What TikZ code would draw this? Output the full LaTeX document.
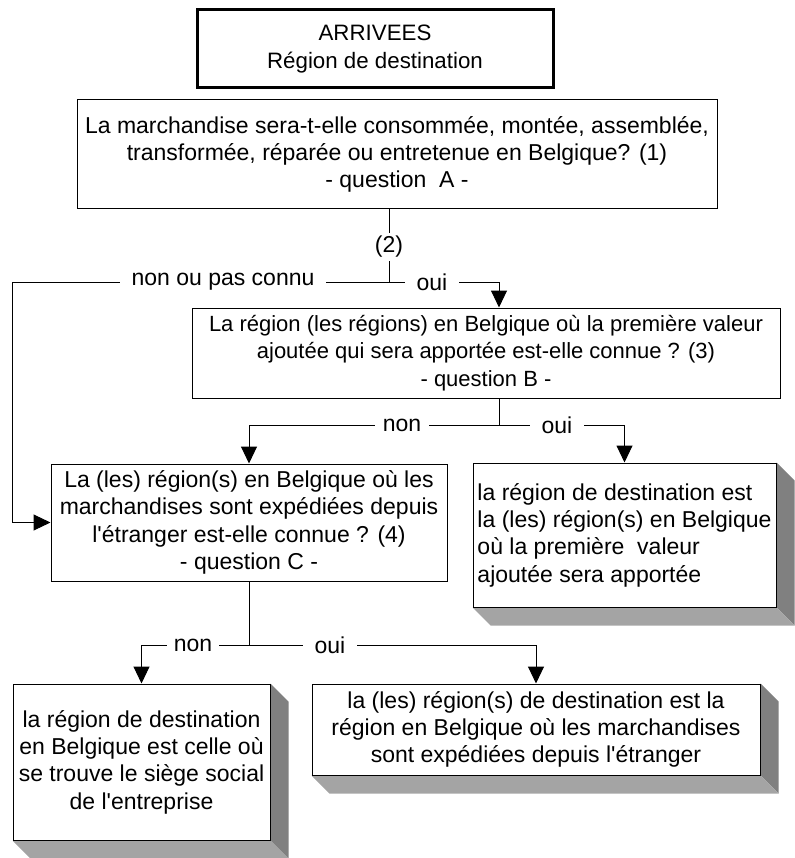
\documentclass[tikz,border=0pt]{standalone}
\usepackage{fontspec}
\setmainfont{Liberation Sans}[Ligatures=TeXOff]
\usetikzlibrary{arrows.meta,calc,backgrounds}
\definecolor{sidegray}{HTML}{808080}
\definecolor{botgray}{HTML}{A4A4A4}
\newcommand\dropface[1]{%
  \fill[sidegray] (#1.north east) -- ++(18,18) -- ($(#1.south east)+(18,18)$) -- (#1.south east) -- cycle;
  \fill[botgray] (#1.south west) -- ++(18,18) -- ($(#1.south east)+(18,18)$) -- (#1.south east) -- cycle;
}
\begin{document}
\begin{tikzpicture}[x=1pt,y=-1pt,
  every node/.style={font=\fontsize{23}{27.3}\selectfont},
  box/.style={draw, line width=1pt, fill=white, inner sep=0pt, align=center},
  lbl/.style={fill=white, inner xsep=12pt, inner ysep=2pt},
  conn/.style={line width=1pt},
  arr/.style={conn, -{Triangle[width=16pt,length=17pt]}}]
\useasboundingbox (0,0) rectangle (794,858);
% boxes
\node[box, line width=3pt, minimum width=356pt, minimum height=78pt, font=\fontsize{22.3}{27.3}\selectfont] (T) at (375,49) {ARRIVEES\\Région de destination};
\node[box, minimum width=640pt, minimum height=109pt] (A) at (397,154.5) {La marchandise sera-t-elle consommée, montée, assemblée,\\transformée, réparée ou entretenue en Belgique? (1)\\- question\ \ A -};
\node[box, minimum width=588pt, minimum height=90pt, font=\fontsize{22}{27.3}\selectfont] (B) at (486,353) {La région (les régions) en Belgique où la première valeur\\ajoutée qui sera apportée est-elle connue ? (3)\\- question B -};
\node[box, minimum width=396pt, minimum height=117pt] (C) at (249,522.5) {La (les) région(s) en Belgique où les\\marchandises sont expédiées depuis\\l'étranger est-elle connue ? (4)\\- question C -};
\node[box, align=left, minimum width=303pt, minimum height=144pt] (D) at (624.5,535) {la région de destination est\\la (les) région(s) en Belgique\\où la première\ \ valeur\\ajoutée sera apportée};
\node[box, minimum width=257pt, minimum height=156pt] (E) at (141.5,762) {la région de destination\\en Belgique est celle où\\se trouve le siège social\\de l'entreprise};
\node[box, minimum width=448pt, minimum height=91pt] (F) at (536,729.5) {la (les) région(s) de destination est la\\région en Belgique où les marchandises\\sont expédiées depuis l'étranger};
\begin{scope}[on background layer]
  \dropface{D}
  \dropface{E}
  \dropface{F}
\end{scope}
% question A branches
\coordinate (j1) at (389,282);
\coordinate (c1) at (12,282);
\coordinate (c2) at (499,282);
\draw[conn] (j1 |- A.south) -- (j1);
\draw[arr] (j1) -- (c1) |- (C.west);
\draw[arr] (j1) -- (c2) -- (c2 |- B.north);
\node[lbl, inner xsep=2pt, inner ysep=3pt] (l2) at (389,247) {(2)};
\node[lbl] (lnon1) at (223,282) {non ou pas connu};
\node[lbl] (loui1) at (432,282) {oui};
% question B branches
\coordinate (j2) at (499,425);
\coordinate (c3) at (249,425);
\coordinate (c4) at (624.5,425);
\draw[conn] (j2 |- B.south) -- (j2);
\draw[arr] (j2) -- (c3) -- (c3 |- C.north);
\draw[arr] (j2) -- (c4) -- (D.north);
\node[lbl, inner xsep=8pt] (lnon2) at (402,425) {non};
\node[lbl] (loui2) at (557,425) {oui};
% question C branches
\coordinate (j3) at (249,645);
\coordinate (c5) at (141.5,645);
\coordinate (c6) at (536,645);
\draw[conn] (C.south) -- (j3);
\draw[arr] (j3) -- (c5) -- (E.north);
\draw[arr] (j3) -- (c6) -- (F.north);
\node[lbl, inner xsep=7pt] (lnon3) at (193,645) {non};
\node[lbl] (loui3) at (330,645) {oui};
\end{tikzpicture}
\end{document}
